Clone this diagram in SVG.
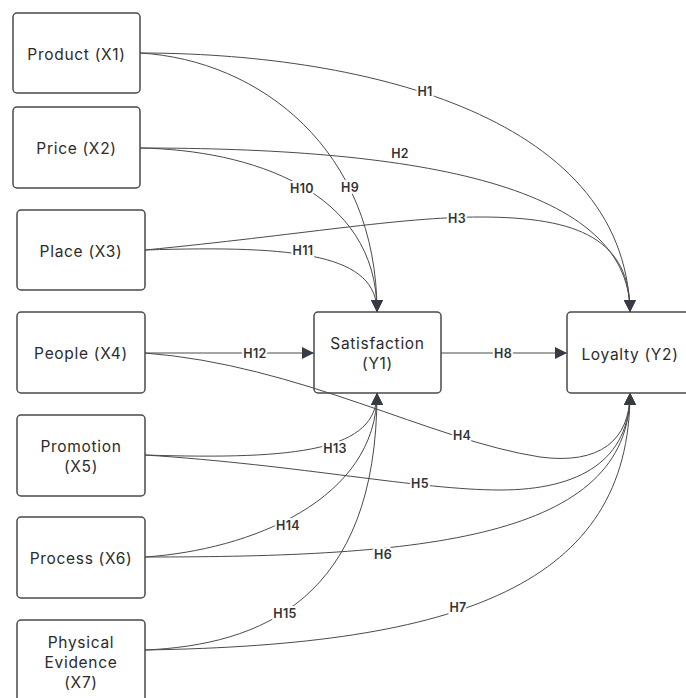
<svg xmlns="http://www.w3.org/2000/svg" width="686" height="698" viewBox="0 0 686 698">
<defs>
<marker id="arr" viewBox="0 0 12 12" refX="12" refY="6" markerWidth="12" markerHeight="12" markerUnits="userSpaceOnUse" orient="auto">
<path d="M0,0 L12,6 L0,12 Z" fill="#363b45"/>
</marker>
<style>
.box{fill:#fff;stroke:#4a4a4a;stroke-width:1.5}
.nt{font-family:Inter,"Liberation Sans",sans-serif;font-size:15.5px;letter-spacing:0.7px;fill:#2b2b2b;text-anchor:middle;dominant-baseline:central}
.ln{fill:none;stroke:#4a4a4a;stroke-width:1;marker-end:url(#arr)}
.lb{font-family:Inter,"Liberation Sans",sans-serif;font-size:12.5px;letter-spacing:0.3px;font-weight:600;fill:#333;text-anchor:middle;dominant-baseline:central;stroke:#fff;stroke-width:4;paint-order:stroke}
</style>
</defs>
<rect width="686" height="698" fill="#fff"/>
<g id="x1"><rect class="box" x="13" y="13" width="127" height="80" rx="4"/><text class="nt" x="76.5" y="54">Product (X1)</text></g>
<g id="x2"><rect class="box" x="13" y="107" width="127" height="81" rx="4"/><text class="nt" x="76.5" y="148">Price (X2)</text></g>
<g id="x3"><rect class="box" x="17" y="210" width="128" height="80" rx="4"/><text class="nt" x="81" y="251">Place (X3)</text></g>
<g id="x4"><rect class="box" x="17" y="312" width="128" height="81" rx="4"/><text class="nt" x="81" y="353">People (X4)</text></g>
<g id="x5"><rect class="box" x="17" y="415" width="128" height="81" rx="4"/><text class="nt" x="81" y="446">Promotion</text><text class="nt" x="81" y="466">(X5)</text></g>
<g id="x6"><rect class="box" x="17" y="517" width="128" height="81" rx="4"/><text class="nt" x="81" y="558">Process (X6)</text></g>
<g id="x7"><rect class="box" x="17" y="620" width="128" height="90" rx="4"/><text class="nt" x="81" y="642">Physical</text><text class="nt" x="81" y="662">Evidence</text><text class="nt" x="81" y="682">(X7)</text></g>
<g id="y1"><rect class="box" x="314" y="312" width="127" height="81" rx="4"/><text class="nt" x="377.5" y="343">Satisfaction</text><text class="nt" x="377.5" y="363">(Y1)</text></g>
<g id="y2"><rect class="box" x="567" y="312" width="127" height="81" rx="4"/><text class="nt" x="630" y="354">Loyalty (Y2)</text></g>
<g id="connectors">
<path class="ln" d="M140,53 C350,53 625,110 630,312"/>
<path class="ln" d="M140,53 C260,60 377,150 377,312"/>
<path class="ln" d="M140,148 C400,148 630,180 630,312"/>
<path class="ln" d="M140,148 C250,150 377,190 377,312"/>
<path class="ln" d="M145,250 C300,235 400,217 480,217 C580,217 630,240 630,312"/>
<path class="ln" d="M145,250 C300,245 377,255 377,312"/>
<path class="ln" d="M145,353 L314,353"/>
<path class="ln" d="M441,353 L567,353"/>
<path class="ln" d="M145,353 C300,365 430,440 540,457 C600,465 630,440 630,393"/>
<path class="ln" d="M145,455 C300,465 420,490 500,490 C580,490 630,460 630,393"/>
<path class="ln" d="M145,455 C300,460 377,450 377,393"/>
<path class="ln" d="M145,557 C420,557 630,540 630,393"/>
<path class="ln" d="M145,557 C250,550 377,500 377,393"/>
<path class="ln" d="M145,650 C460,645 630,585 630,393"/>
<path class="ln" d="M145,650 C260,645 377,600 377,393"/>
<g id="labels">
<text class="lb" x="425" y="91">H1</text>
<text class="lb" x="400" y="153">H2</text>
<text class="lb" x="457" y="218">H3</text>
<text class="lb" x="350" y="187">H9</text>
<text class="lb" x="302" y="188">H10</text>
<text class="lb" x="303" y="250">H11</text>
<text class="lb" x="255" y="353">H12</text>
<text class="lb" x="503" y="353">H8</text>
<text class="lb" x="462" y="435">H4</text>
<text class="lb" x="420" y="483">H5</text>
<text class="lb" x="335" y="448">H13</text>
<text class="lb" x="288" y="525">H14</text>
<text class="lb" x="383" y="554">H6</text>
<text class="lb" x="285" y="613">H15</text>
<text class="lb" x="458" y="607">H7</text>
</g>
</g>
</svg>
